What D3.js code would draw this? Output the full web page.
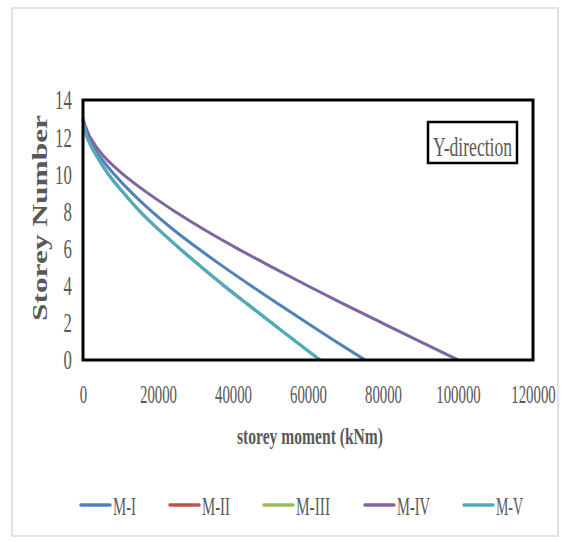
<!DOCTYPE html>
<html>
<head>
<meta charset="utf-8">
<script src="https://cdn.jsdelivr.net/npm/d3@7"></script>
<style>
  body { margin: 0; background: #fff; }
  text { font-family: "Liberation Serif", "Times New Roman", serif; fill: #595959; }
</style>
</head>
<body>
<div id="chart"></div>
<script>
(function(){

    // storeys 0..13
    var storeys = [0, 1, 2, 3, 4, 5, 6, 7, 8, 9, 10, 11, 12, 13];

    var seriesNames = ["M-I", "M-II", "M-III", "M-IV", "M-V"];
    var seriesColors = ["#4F81BD", "#C0504D", "#9BBB59", "#8064A2", "#4BACC6"];

    // storey moment (kNm), storey 0 first
    var mI   = [75200, 67400, 59700, 52200, 44800, 37600, 30700, 24200, 18300, 13000, 8300, 4300, 1300, 0];
    var mII  = [63200, 56700, 50300, 43900, 37600, 31600, 25800, 20300, 15200, 10800, 6800, 3600, 1100, 0];
    var mIII = [63200, 56700, 50300, 43900, 37600, 31600, 25800, 20300, 15200, 10800, 6800, 3600, 1100, 0];
    var mIV  = [100000, 89800, 79700, 69700, 59900, 50400, 41200, 32500, 24500, 17200, 10700, 5400, 1900, 0];
    var mV   = [63200, 56700, 50300, 43900, 37600, 31600, 25800, 20300, 15200, 10800, 6800, 3600, 1100, 0];

    var xTicks = [0, 20000, 40000, 60000, 80000, 100000, 120000];
    var yTicks = [0, 2, 4, 6, 8, 10, 12, 14];

    var allSeries = [mI, mII, mIII, mIV, mV];

    var width = 568, height = 542;
    var left = 83, right = 533, top = 100, bottom = 360;

    var svg = d3.select("#chart").append("svg")
        .attr("width", width)
        .attr("height", height);

    // outer chart border
    svg.append("rect")
        .attr("x", 12).attr("y", 8)
        .attr("width", 546).attr("height", 528)
        .attr("fill", "#fff")
        .attr("stroke", "#d9d9d9")
        .attr("stroke-width", 1.5);

    var x = d3.scaleLinear().domain([0, 120000]).range([left, right]);
    var y = d3.scaleLinear().domain([0, 14]).range([bottom, top]);

    // tick labels (narrow, tall serif like the original)
    var yAxis = svg.append("g")
        .attr("transform", "translate(" + left + ",0)")
        .call(d3.axisLeft(y).tickValues(yTicks).tickSize(0).tickFormat(d3.format("d")));
    yAxis.select(".domain").remove();
    yAxis.selectAll("text")
        .attr("font-size", 27)
        .style("font-family", "'Liberation Serif', serif")
        .attr("fill", "#555")
        .attr("x", -18)
        .attr("dy", "0.33em")
        .attr("transform", "scale(0.62,1)");

    var xAxis = svg.append("g")
        .attr("transform", "translate(0," + bottom + ")")
        .call(d3.axisBottom(x).tickValues(xTicks).tickSize(0).tickFormat(d3.format("d")));
    xAxis.select(".domain").remove();
    xAxis.selectAll("text")
        .attr("font-size", 26)
        .style("font-family", "'Liberation Serif', serif")
        .attr("fill", "#555")
        .attr("y", 43)
        .attr("dy", 0)
        .attr("transform", "scale(0.57,1)");

    // series lines
    var line = d3.line()
        .x(function(d){ return x(d[0]); })
        .y(function(d){ return y(d[1]); })
        .curve(d3.curveMonotoneY);

    allSeries.forEach(function(vals, i){
        var pts = vals.map(function(v, j){ return [v, storeys[j]]; });
        svg.append("path")
            .datum(pts)
            .attr("d", line)
            .attr("fill", "none")
            .attr("stroke", seriesColors[i])
            .attr("stroke-width", 3);
    });

    // plot frame
    svg.append("rect")
        .attr("x", left).attr("y", top)
        .attr("width", right - left).attr("height", bottom - top)
        .attr("fill", "none")
        .attr("stroke", "#000")
        .attr("stroke-width", 3);

    // direction label box
    svg.append("rect")
        .attr("x", 428).attr("y", 122)
        .attr("width", 89).attr("height", 41)
        .attr("fill", "#fff")
        .attr("stroke", "#000")
        .attr("stroke-width", 2.5);
    svg.append("text")
        .attr("x", 433).attr("y", 156)
        .attr("font-size", 28)
        .attr("fill", "#404040")
        .attr("textLength", 79)
        .attr("lengthAdjust", "spacingAndGlyphs")
        .text("Y-direction");

    // axis titles
    svg.append("text")
        .attr("x", 237).attr("y", 444)
        .attr("font-size", 23)
        .attr("font-weight", "bold")
        .attr("textLength", 146)
        .attr("lengthAdjust", "spacingAndGlyphs")
        .text("storey moment (kNm)");

    svg.append("text")
        .attr("transform", "translate(47,218) rotate(-90)")
        .attr("text-anchor", "middle")
        .attr("font-size", 21)
        .attr("font-weight", "bold")
        .attr("textLength", 206)
        .attr("lengthAdjust", "spacingAndGlyphs")
        .text("Storey Number");

    // legend
    var legendX = [80, 169, 263, 364, 463];
    var legendW = [23, 28, 34, 33, 27];
    var legend = svg.selectAll(".legend")
        .data(seriesNames)
        .enter().append("g")
        .attr("class", "legend")
        .attr("transform", function(d, i){ return "translate(" + legendX[i] + ",505)"; });
    legend.append("line")
        .attr("x1", 1).attr("x2", 30)
        .attr("y1", 0).attr("y2", 0)
        .attr("stroke", function(d, i){ return seriesColors[i]; })
        .attr("stroke-width", 3.5)
        .attr("stroke-linecap", "round");
    legend.append("text")
        .attr("x", 33).attr("y", 10)
        .attr("font-size", 26)
        .attr("fill", "#555")
        .attr("textLength", function(d, i){ return legendW[i]; })
        .attr("lengthAdjust", "spacingAndGlyphs")
        .text(function(d){ return d; });

})();
</script>
</body>
</html>
